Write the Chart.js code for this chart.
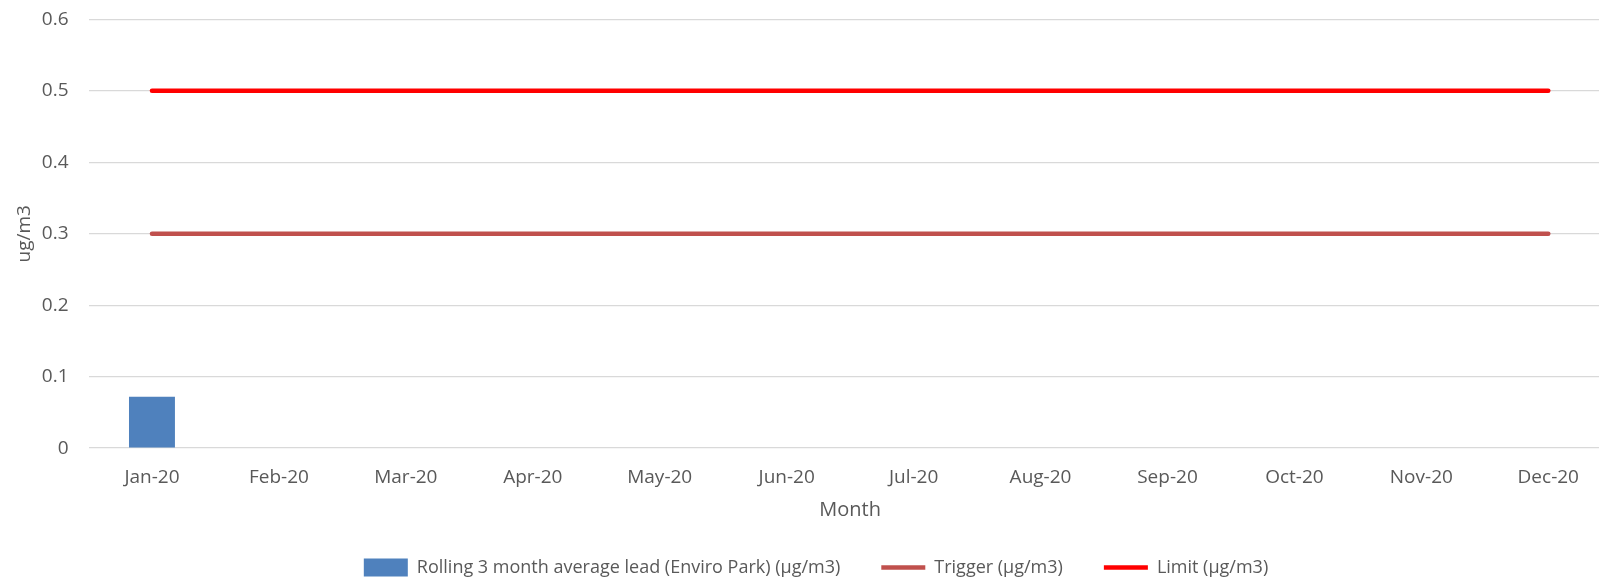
<!DOCTYPE html>
<html>
<head>
<meta charset="utf-8">
<script src="https://cdn.jsdelivr.net/npm/chart.js@4.4.1/dist/chart.umd.min.js"></script>
<style>
  html, body { margin: 0; padding: 0; background: #fff; overflow: hidden; }
  #wrap { width: 1614px; height: 598.4px; margin-top: -12.4px; position: relative; }
</style>
</head>
<body>
<div id="wrap"><canvas id="chartLead"></canvas></div>
<script>
// Dados
const meses        = ['Jan-20', 'Feb-20', 'Mar-20', 'Apr-20', 'May-20', 'Jun-20', 'Jul-20', 'Aug-20', 'Sep-20', 'Oct-20', 'Nov-20', 'Dec-20'];
const mediaChumbo  = [0.072, null, null, null, null, null, null, null, null, null, null, null];
const gatilho      = [0.3, 0.3, 0.3, 0.3, 0.3, 0.3, 0.3, 0.3, 0.3, 0.3, 0.3, 0.3];
const limite       = [0.5, 0.5, 0.5, 0.5, 0.5, 0.5, 0.5, 0.5, 0.5, 0.5, 0.5, 0.5];
const rotulosY     = ['0', '0.1', '0.2', '0.3', '0.4', '0.5', '0.6'];

Chart.defaults.font.family = '"Open Sans", sans-serif';
Chart.defaults.color = '#595959';

const contexto = document.getElementById('chartLead').getContext('2d');

new Chart(contexto, {
  type: 'bar',
  data: {
    labels: meses,
    datasets: [
      {
        label: 'Rolling 3 month average lead (Enviro Park) (µg/m3)',
        data: mediaChumbo,
        backgroundColor: '#4f81bd',
        borderWidth: 0,
        categoryPercentage: 1,
        barPercentage: 0.362,
        pointStyle: 'rect'
      },
      {
        type: 'line',
        label: 'Trigger (µg/m3)',
        data: gatilho,
        borderColor: '#c0504d',
        backgroundColor: '#c0504d',
        borderWidth: 4.5,
        borderCapStyle: 'round',
        pointRadius: 0,
        pointStyle: 'line',
        fill: false
      },
      {
        type: 'line',
        label: 'Limit (µg/m3)',
        data: limite,
        borderColor: '#ff0000',
        backgroundColor: '#ff0000',
        borderWidth: 4.5,
        borderCapStyle: 'round',
        pointRadius: 0,
        pointStyle: 'line',
        fill: false
      }
    ]
  },
  options: {
    responsive: true,
    maintainAspectRatio: false,
    animation: false,
    layout: { padding: { top: 0, left: 18, right: 0, bottom: 0 } },
    plugins: {
      tooltip: { enabled: false },
      legend: {
        position: 'bottom',
        labels: {
          usePointStyle: true,
          pointStyleWidth: 44,
          boxHeight: 18,
          padding: 41,
          color: '#595959',
          font: { size: 18 }
        }
      }
    },
    scales: {
      x: {
        grid: { display: false, drawTicks: false },
        border: { display: false },
        ticks: { padding: 18, maxRotation: 0, autoSkip: false, font: { size: 19 } },
        title: { display: true, text: 'Month', color: '#595959', font: { size: 20 }, padding: { top: 0, bottom: -5 } },
        afterFit: escala => { escala.height = 69.3; }
      },
      y: {
        min: 0,
        max: 0.6,
        grid: { color: '#d9d9d9', lineWidth: 1.3, drawTicks: false },
        border: { display: false },
        ticks: {
          stepSize: 0.1,
          padding: 20,
          font: { size: 19 },
          callback: (valor, indice) => rotulosY[indice]
        },
        title: { display: true, text: 'ug/m3', color: '#595959', font: { size: 19 }, padding: { top: -4.4, bottom: 0 } },
        afterFit: escala => { escala.width = 70.5; }
      }
    }
  }
});
</script>
</body>
</html>
